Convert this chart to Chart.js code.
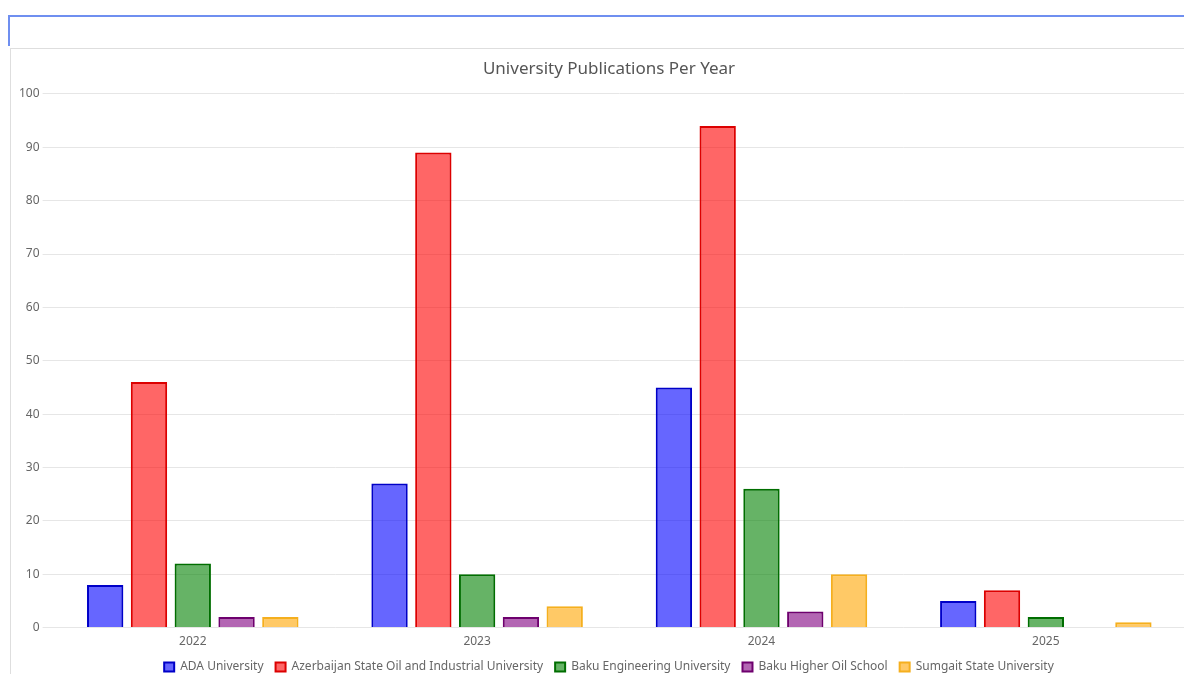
<!DOCTYPE html>
<html>
<head>
<meta charset="utf-8">
<script src="https://cdn.jsdelivr.net/npm/chart.js@4"></script>
<style>
  html, body { margin: 0; padding: 0; background: #fff; overflow: hidden; width: 1184px; height: 674px; }
  .top-frame { position: absolute; left: 8px; top: 15px; width: 1200px; height: 31px; border-top: 2px solid #6f8ff0; border-left: 2px solid #6f8ff0; box-sizing: border-box; }
  .card { position: absolute; left: 10px; top: 48px; width: 1220px; height: 700px; border-top: 1px solid #dedede; border-left: 1px solid #dedede; }
  #myChart { position: absolute; left: 5px; top: 0; }
</style>
</head>
<body>
<div class="top-frame"></div>
<div class="card"><canvas id="myChart" width="1186" height="634"></canvas></div>
<script>
  const years = ['2022', '2023', '2024', '2025'];
  const ada = [8, 27, 45, 5];
  const asoiu = [46, 89, 94, 7];
  const beu = [12, 10, 26, 2];
  const bhos = [2, 2, 3, 0];
  const ssu = [2, 4, 10, 1];

  function renderChart() {
    Chart.defaults.font.family = '"Noto Sans", "Liberation Sans", sans-serif';
    Chart.defaults.color = '#666';

    const ctx = document.getElementById('myChart').getContext('2d');
    new Chart(ctx, {
      type: 'bar',
      data: {
        labels: years,
        datasets: [
          { label: 'ADA University', data: ada, backgroundColor: 'rgba(0, 0, 255, 0.6)', borderColor: 'rgb(0, 0, 200)' },
          { label: 'Azerbaijan State Oil and Industrial University', data: asoiu, backgroundColor: 'rgba(255, 0, 0, 0.6)', borderColor: 'rgb(220, 0, 0)' },
          { label: 'Baku Engineering University', data: beu, backgroundColor: 'rgba(0, 128, 0, 0.6)', borderColor: 'rgb(0, 110, 0)' },
          { label: 'Baku Higher Oil School', data: bhos, backgroundColor: 'rgba(128, 0, 128, 0.6)', borderColor: 'rgb(110, 0, 110)' },
          { label: 'Sumgait State University', data: ssu, backgroundColor: 'rgba(255, 165, 0, 0.6)', borderColor: 'rgb(245, 175, 30)' }
        ].map(d => Object.assign(d, { borderWidth: 2, categoryPercentage: 0.77, barPercentage: 0.83 }))
      },
      options: {
        responsive: false,
        animation: false,
        plugins: {
          title: {
            display: true, text: 'University Publications Per Year',
            font: { size: 17, weight: 'normal' }, color: '#555',
            padding: { top: 10, bottom: 14.5 }
          },
          legend: { position: 'bottom', labels: { boxWidth: 10, boxHeight: 9, padding: 12, font: { size: 12 } } }
        },
        scales: {
          x: {
            grid: { display: false, drawTicks: false },
            border: { display: false },
            ticks: { font: { size: 12 }, padding: 7 },
            // pull the legend a bit closer to the year labels
            afterFit(scale) { scale.height -= 7; }
          },
          y: {
            beginAtZero: true, max: 100,
            ticks: { stepSize: 10, font: { size: 12 } },
            grid: { color: '#e6e6e6' },
            border: { display: false }
          },
          // empty right-hand axis, only keeps the plot clear of the right edge
          yRight: {
            type: 'linear', position: 'right',
            grid: { display: false }, border: { display: false },
            ticks: { display: false },
            afterFit(scale) { scale.width = 14; }
          }
        }
      }
    });
  }

  renderChart();
</script>
</body>
</html>
